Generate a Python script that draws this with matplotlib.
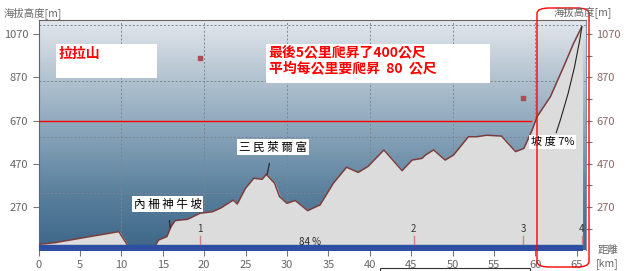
import matplotlib.pyplot as plt
import matplotlib
import numpy as np
from matplotlib.colors import LinearSegmentedColormap
from matplotlib.patches import FancyBboxPatch, Rectangle

matplotlib.rcParams['font.family'] = ['Noto Sans CJK TC', 'DejaVu Sans']

# elevation profile (km, m)
km = [0, 2, 5, 9.7, 11, 13.9, 14.5, 15.5, 16, 16.5, 18, 19.5, 21, 22, 23.5, 24,
      25, 26, 27, 27.5, 28.5, 29.1, 30, 31, 32.5, 34, 35.6, 37.2, 38.6, 39.8,
      41.7, 43.9, 45.1, 46.3, 46.7, 47.7, 49.1, 50.1, 51.9, 52.9, 54.1, 55.9,
      57.6, 58.6, 59.6, 60.2, 61.8, 63.4, 64.6, 65.6]
elev = [97, 105, 125, 156, 78, 78, 117, 133, 179, 207, 213, 241, 248, 265, 302, 284,
        357, 403, 398, 421, 380, 318, 287, 300, 253, 280, 380, 454, 430, 458,
        534, 438, 487, 495, 510, 534, 487, 510, 595, 595, 602, 598,
        526, 541, 626, 688, 780, 919, 1027, 1104]

y_ticks = [270, 470, 670, 870, 1070]
x_ticks = list(range(0, 70, 5))
grid_x = [10, 20, 30, 40, 50, 60]
grid_y = [335, 594, 853, 1112]
marker_km = [19.5, 45.3, 58.55, 65.6]
marker_lbl = ['1', '2', '3', '4']
waypoints_km = [19.5, 58.5]
waypoints_el = [959, 774]

XMAX, YMIN, YMAX = 66.1, 71, 1135

fig = plt.figure(figsize=(6.34, 2.71), dpi=100)
ax = fig.add_axes([38.5/634, 1-250/271, (586-38.5)/634, (250-20)/271])

# gradient background
cmap = LinearSegmentedColormap.from_list('bg', ['#3d6688', '#5a809d', '#86a2b8', '#b3c3d0', '#e2e7ec'])
grad = np.linspace(0, 1, 256).reshape(-1, 1)
ax.imshow(grad, extent=[0, XMAX, YMIN, YMAX], origin='lower', aspect='auto', cmap=cmap, zorder=0)

for gx in grid_x:
    ax.axvline(gx, color='#7a8590', ls=(0, (2, 2)), lw=0.7, zorder=1)
for gy in grid_y:
    ax.axhline(gy, color='#7a8590', ls=(0, (2, 2)), lw=0.7, zorder=1)

ax.fill_between(km, YMIN, elev, color='#dcdcdc', zorder=2)
ax.plot(km, elev, color='#7a3d3d', lw=1.1, zorder=3)

# red reference line at 670 m
ax.plot([0, 59.4], [670, 670], color='#ff0000', lw=1.0, zorder=3)

# blue bar
ax.fill_between([0, 65.6], YMIN, YMIN + 22, color='#2c4fa3', zorder=4)

for mk, lb in zip(marker_km, marker_lbl):
    ax.plot([mk, mk], [100, 135], color='#d08080', lw=1, zorder=4)
    ax.text(mk, 168, lb, fontsize=7, color='#333333', ha='center', va='center', zorder=5)
ax.text(32.8, 110, '84 %', fontsize=7, color='#222222', ha='center', va='center', zorder=5)

ax.scatter(waypoints_km, waypoints_el, marker='s', s=8, color='#b04a55', zorder=5)

box = dict(boxstyle='square,pad=0.15', fc='white', ec='none')
ax.annotate('三 民 萊 爾 富', xy=(27.6, 420), xytext=(28.3, 548), fontsize=8.3,
            ha='center', va='center', bbox=box, zorder=6,
            arrowprops=dict(arrowstyle='-', color='#222222', lw=0.8, shrinkA=6, shrinkB=0))
ax.annotate('內 柵 神 牛 坡', xy=(15.9, 173), xytext=(15.6, 284), fontsize=8.3,
            ha='center', va='center', bbox=box, zorder=6,
            arrowprops=dict(arrowstyle='-', color='#222222', lw=0.8, shrinkA=6, shrinkB=0))
ax.annotate('坡 度 7%', xy=(65.6, 1104), xytext=(62.1, 570), fontsize=8,
            ha='center', va='center', bbox=box, zorder=6,
            arrowprops=dict(arrowstyle='-', color='#222222', lw=0.8, shrinkA=2, shrinkB=0,
                            connectionstyle='arc3,rad=0.05'))

# title boxes
ax.add_patch(Rectangle((2.1, 865), 12.2, 160, fc='white', ec='none', zorder=6))
ax.text(2.4, 1012, '拉拉山', fontsize=10, fontweight='bold', color='#ff0000',
        ha='left', va='top', zorder=7)
ax.add_patch(Rectangle((27.5, 842), 27.0, 180, fc='white', ec='none', zorder=6))
ax.text(27.8, 1012, '最後5公里爬昇了400公尺\n平均每公里要爬昇  80  公尺', fontsize=10,
        fontweight='bold', color='#ff0000', ha='left', va='top', linespacing=1.15, zorder=7)

ax.set_xlim(0, XMAX)
ax.set_ylim(YMIN, YMAX)
ax.set_xticks(x_ticks)
ax.set_yticks(y_ticks)
ax.tick_params(colors='#777777', labelsize=8, length=4, width=0.8)
ax.tick_params(axis='x', labelcolor='#666666')
ax.tick_params(axis='y', labelcolor='#666666')
for s in ['left', 'top']:
    ax.spines[s].set_color('#666666')
ax.spines['bottom'].set_visible(False)
ax.spines['right'].set_color('#8090a0')

ax2 = ax.twinx()
ax2.set_ylim(YMIN, YMAX)
ax2.set_yticks(y_ticks)
ax2.set_yticks([170, 370, 570, 770, 970], minor=True)
ax2.tick_params(colors='#777777', labelsize=8, length=4, width=0.8, labelcolor='#8a6a6a')
ax2.tick_params(which='minor', length=4, width=0.8, colors='#777777')
for s in ax2.spines.values():
    s.set_visible(False)

fig.text(4/634, 1-14/271, '海拔高度[m]', fontsize=7.5, color='#666666', ha='left', va='center')
fig.text(612/634, 1-13/271, '海拔高度[m]', fontsize=7.5, color='#666666', ha='right', va='center')
fig.text(598/634, 1-250/271, '距離', fontsize=7.5, color='#666666', ha='left', va='center')
fig.text(596/634, 1-264/271, '[km]', fontsize=7.5, color='#666666', ha='left', va='center')

# red rounded frame on the right
fig.patches.append(FancyBboxPatch((537/634, 1-267/271), 52/634, 259/271,
                                  boxstyle='round,pad=0,rounding_size=0.02',
                                  transform=fig.transFigure, fc='none', ec='#ff0000', lw=1.0))
fig.patches.append(Rectangle((380/634, -0.05), 150/634, 0.05 + 3/271,
                             transform=fig.transFigure, fc='white', ec='#333333', lw=0.8))

fig.savefig('out.png', dpi=100)
